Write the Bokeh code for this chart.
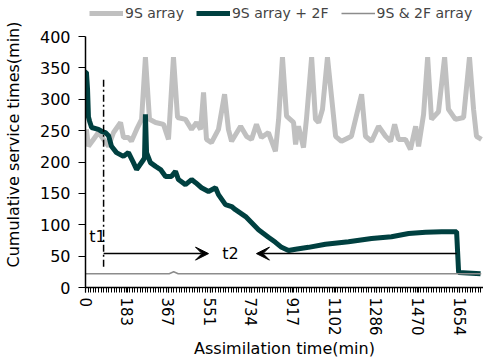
from bokeh.plotting import figure
from bokeh.models import (Range1d, FixedTicker, Legend, LegendItem, Arrow, VeeHead)
from bokeh.core.properties import value
from bokeh.embed import file_html
from bokeh.resources import INLINE

FONT = "DejaVu Sans"

# --- data -------------------------------------------------------------
# "9S array"
gray_x = [4, 13, 35, 57, 80, 102, 124, 155, 168, 190, 203, 226, 248, 265, 283, 310, 345, 367, 389, 407,
          442, 469, 491, 509, 522, 535, 557, 588, 615, 632, 646, 686, 712, 734, 756, 778, 809, 840, 854, 871,
          889, 920, 929, 942, 964, 977, 1000, 1017, 1031, 1048, 1070, 1088, 1106, 1132, 1176, 1221, 1238, 1265,
          1296, 1327, 1349, 1367, 1384, 1415, 1437, 1460, 1473, 1495, 1513, 1530, 1561, 1588, 1605, 1636, 1672,
          1698, 1716, 1729, 1751]
gray_y = [252, 225, 236, 247, 236, 225, 247, 263, 239, 239, 233, 252, 268, 367, 268, 263, 260, 236, 367, 271,
          268, 252, 263, 252, 311, 236, 231, 252, 308, 252, 233, 257, 241, 236, 260, 239, 247, 217, 268, 367,
          273, 263, 228, 257, 223, 268, 367, 268, 263, 284, 367, 304, 241, 233, 241, 308, 241, 233,
          257, 241, 233, 260, 236, 236, 220, 257, 225, 276, 367, 268, 280, 367, 284, 268, 271,
          367, 284, 241, 236]

# "9S array + 2F"
dark_x = [2, 4, 9, 13, 18, 27, 57, 71, 88, 102, 115, 137, 168, 190, 212, 226, 257, 261, 265, 270,
          287, 310, 332, 354, 380, 398, 411, 442, 469, 487, 513, 544, 575, 588, 619, 646, 663, 708, 765, 809,
          840, 867, 898, 929, 986, 1061, 1163, 1265, 1353, 1429, 1504, 1575, 1641, 1650, 1747]
dark_y = [343, 343, 316, 272, 265, 255, 252, 249, 247, 242, 225, 215, 209, 215, 199, 188, 204, 207, 276, 215,
          199, 193, 188, 177, 177, 185, 172, 164, 172, 167, 159, 153, 159, 148, 132, 129, 124, 113, 92, 80,
          72, 64, 59, 61, 64, 69, 73, 78, 81, 86, 88, 89, 89, 24, 22]

# "9S & 2F array"
thin_x = [0, 370, 390, 410, 1750]
thin_y = [22, 22, 25, 22, 22]

x_ticks = [0, 183, 367, 551, 734, 917, 1102, 1286, 1470, 1654]
x_tick_labels = ["0", "183", "367", "551", "734", "917", "1102", "1286", "1470", "1654"]
y_ticks = [0, 50, 100, 150, 200, 250, 300, 350, 400]

# annotations
t1_x = 80
t1_line_y = [33, 331]
arrow_y = 54
arrow1 = (80, 544)
arrow2 = (1641, 756)
t1_label = (53, 81)
t2_label = (641, 54)

# --- figure -----------------------------------------------------------
# frame extends above 400 to leave room for the legend inside the frame;
# the y axis line is bounded to 0..400
p = figure(frame_width=398, frame_height=286, output_backend="svg", toolbar_location=None,
           x_range=Range1d(0, 1760), y_range=Range1d(0, 455.8),
           min_border_left=79, min_border_top=1, min_border_right=0, min_border_bottom=10)
p.outline_line_color = None
p.xgrid.visible = False
p.ygrid.visible = False
p.background_fill_color = "white"
p.border_fill_color = "white"

r_gray = p.line(gray_x, gray_y, line_color="#C0C0C0", line_width=5)
r_dark = p.line(dark_x, dark_y, line_color="#004040", line_width=5)
r_thin = p.line(thin_x, thin_y, line_color="#8C8C8C", line_width=1.5)

# t1 dash-dot line
p.line([t1_x, t1_x], t1_line_y, line_color="black", line_width=1.5, line_dash="7 3 2 3")

p.add_layout(Arrow(end=VeeHead(size=13, fill_color="black", line_color="black"),
                   x_start=arrow1[0], y_start=arrow_y, x_end=arrow1[1], y_end=arrow_y,
                   line_color="black", line_width=1.5))
p.add_layout(Arrow(end=VeeHead(size=13, fill_color="black", line_color="black"),
                   x_start=arrow2[0], y_start=arrow_y, x_end=arrow2[1], y_end=arrow_y,
                   line_color="black", line_width=1.5))

p.text(x=[t1_label[0], t2_label[0]], y=[t1_label[1], t2_label[1]], text=["t1", "t2"],
       text_font=value(FONT), text_font_size="16px", text_align="center",
       text_baseline="middle", text_color="black")

# axes
xa = p.xaxis[0]
xa.ticker = FixedTicker(ticks=x_ticks, minor_ticks=[i * 11.5 for i in range(0, 154)])
xa.major_label_overrides = {t: l for t, l in zip(x_ticks, x_tick_labels)}
xa.major_label_orientation = "vertical"
xa.axis_label = "Assimilation time(min)"
xa.major_tick_out = 5
xa.major_tick_in = 0
xa.minor_tick_out = 5
xa.minor_tick_in = 0
xa.major_label_standoff = 5
xa.axis_label_standoff = 0

ya = p.yaxis[0]
ya.ticker = FixedTicker(ticks=y_ticks, minor_ticks=[])
ya.bounds = (0, 400)
ya.axis_label = "Cumulative service times(min)"
ya.major_tick_out = 7
ya.major_tick_in = 0
ya.major_label_standoff = 8
ya.axis_label_standoff = 14

for ax in (xa, ya):
    ax.axis_line_color = "black"
    ax.axis_line_width = 1.5
    ax.major_tick_line_color = "black"
    ax.major_tick_line_width = 1.2
    ax.minor_tick_line_color = "black"
    ax.major_label_text_font = FONT
    ax.major_label_text_font_size = "16px"
    ax.major_label_text_color = "black"
    ax.axis_label_text_font = FONT
    ax.axis_label_text_font_size = "16px"
    ax.axis_label_text_font_style = "normal"
    ax.axis_label_text_color = "black"
xa.major_label_text_font_size = "15px"

legend = Legend(items=[LegendItem(label="9S array", renderers=[r_gray]),
                       LegendItem(label="9S array + 2F", renderers=[r_dark]),
                       LegendItem(label="9S & 2F array", renderers=[r_thin])],
                orientation="horizontal", location=(4, 266),
                border_line_color=None, background_fill_alpha=0,
                label_text_font=FONT, label_text_font_size="14px",
                glyph_width=34, glyph_height=16, label_standoff=2, spacing=12,
                padding=0, margin=0)
p.add_layout(legend, "center")

open("out.html", "w").write(file_html(p, INLINE))
